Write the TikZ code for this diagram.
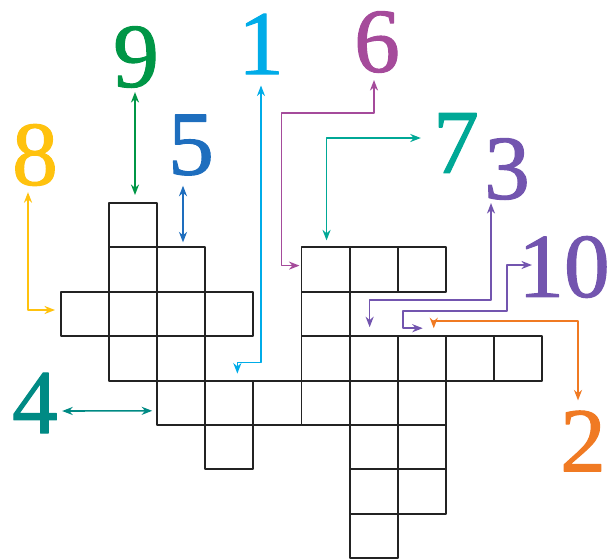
\documentclass[tikz,border=0pt]{standalone}
\usepackage{fontspec}
\newfontfamily\ziffern[FakeBold=1.2]{Liberation Serif}
\usetikzlibrary{arrows.meta,calc,positioning}
\definecolor{fg}{RGB}{35,35,35}
\definecolor{gelb}{RGB}{255,194,14}
\definecolor{gruen}{RGB}{0,150,70}
\definecolor{hblau}{RGB}{0,172,232}
\definecolor{lila}{RGB}{165,75,155}
\definecolor{dblau}{RGB}{30,110,190}
\definecolor{tuerkis}{RGB}{0,168,150}
\definecolor{violett}{RGB}{115,85,175}
\definecolor{petrol}{RGB}{0,138,132}
\definecolor{orng}{RGB}{240,122,35}
\tikzset{
  every picture/.style={line cap=round, line join=round,
    >={Stealth[length=6pt,width=4.6pt]}},
  % Kästchen
  cell/.style={draw=fg, line width=1.1pt, minimum width=9.62mm, minimum height=8.88mm,
    inner sep=0pt, outer sep=0pt},
  % Ziffern
  num/.style={inner sep=0pt, font=\ziffern\fontsize{52}{52}\selectfont},
  % Pfeile
  link/.style={line width=0.9pt, <->},
}

\begin{document}
\begin{tikzpicture}[x=0.2mm, y=-0.2mm]
  \useasboundingbox (0,0) rectangle (607,559);
  % Gitter: Spalte/Zeile
  \foreach \c/\r in {1/0, 1/1,2/1, 5/1,6/1,7/1, 0/2,1/2,2/2,3/2, 5/2, 1/3,2/3,
    5/3,6/3,7/3,8/3,9/3, 2/4,3/4,4/4,5/4,6/4,7/4, 3/5,6/5,7/5, 6/6,7/6, 6/7}
    \node[cell] (k\c-\r) at ({85.05+48.1*\c},{225.2+44.4*\r}) {};
  % Nummern
  \node[num, hblau] (n1) at (261,44) {1};
  \node[num, orng] (n2) at (583,441) {2};
  \node[num, violett] (n3) at (507,169) {3};
  \node[num, petrol] (n4) at (35,403) {4};
  \node[num, dblau] (n5) at (191,145) {5};
  \node[num, lila] (n6) at (377,42) {6};
  \node[num, tuerkis] (n7) at (456,143) {7};
  \node[num, gelb] (n8) at (35,155) {8};
  \node[num, gruen] (n9) at (136,57) {9};
  \node[num, violett] (n10) at (564,267) {10};
  % Pfeile zu den Startfeldern
  \draw[link, hblau] ($(n1.south)+(0,11)$) |- ($(k3-4.north)+(8,-18)$) -- ($(k3-4.north)+(8,-7)$);
  \draw[link, orng] ($(k7-3.north)+(12,-8)$) -- ++(0,-7) -| ($(n2.north)+(-5,-10)$);
  \draw[link, violett] ($(n3.south)+(-16,3)$) |- ($(k6-3.north)+(-4,-36)$) -- ($(k6-3.north)+(-4,-9)$);
  \draw[link, petrol] ($(n4.east)+(4,8)$) -- ($(k2-4.west)+(-5,8)$);
  \draw[link, dblau] ($(n5.south)+(-8,10)$) -- ($(n5.south |- k2-1.north)+(-8,-5)$);
  \draw[link, lila] ($(n6.south)+(-3,7)$) -- ++(0,33) -| ($(k5-1.west)+(-20,-4)$) -- ($(k5-1.west)+(-2,-4)$);
  \draw[link, tuerkis] ($(k5-1.north)+(1,-7)$) |- ($(n7.west)+(-12,-5)$);
  \draw[link, gelb] ($(n8.south)+(-7,6)$) |- ($(k0-2.west)+(-6,-4)$);
  \draw[link, gruen] ($(n9.south)+(-1,4)$) -- ($(n9.south |- k1-0.north)+(-1,-8)$);
  \draw[link, violett] ($(n10.west)+(14,-2)$) -| ($(k7-3.north)+(85,-25)$) -| ($(k7-3.north)+(-19,-8)$)
    -- ($(k7-3.north)+(1,-8)$);
\end{tikzpicture}
\end{document}
